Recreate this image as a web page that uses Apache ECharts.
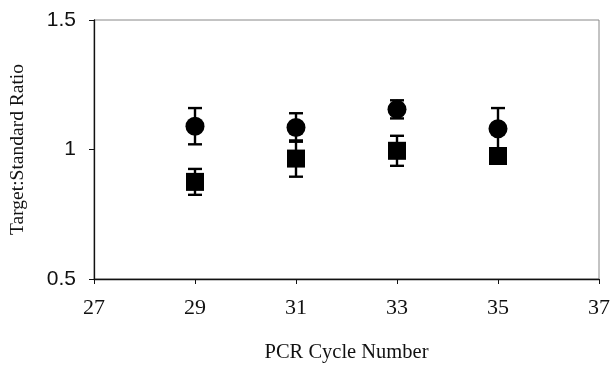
<!DOCTYPE html>
<html>
<head>
<meta charset="utf-8">
<script src="https://cdn.jsdelivr.net/npm/echarts@6/dist/echarts.min.js"></script>
<style>
  html, body { margin: 0; padding: 0; background: #fff; }
  #chart { width: 613px; height: 369px; }
</style>
</head>
<body>
<div id="chart"></div>
<script>
// PCR cycle numbers sampled
var cycles = [29, 31, 33, 35];
// Target:Standard ratio, circle series (mean and error)
var circleMean = [1.09, 1.085, 1.155, 1.08];
var circleErr = [0.07, 0.055, 0.035, 0.08];
// Target:Standard ratio, square series (mean and error)
var squareMean = [0.875, 0.965, 0.995, 0.975];
var squareErr = [0.05, 0.07, 0.058, 0.02];

function pts(mean) {
  return cycles.map(function (c, i) { return [c, mean[i]]; });
}
function bars(mean, err) {
  return cycles.map(function (c, i) { return [c, mean[i] - err[i], mean[i] + err[i]]; });
}

function renderErr(params, api) {
  var x = api.value(0);
  var lo = api.coord([x, api.value(1)]);
  var hi = api.coord([x, api.value(2)]);
  var half = 7;
  var st = { stroke: '#000', lineWidth: 2.4 };
  return {
    type: 'group',
    children: [
      { type: 'line', shape: { x1: lo[0], y1: lo[1], x2: hi[0], y2: hi[1] }, style: st },
      { type: 'line', shape: { x1: lo[0] - half, y1: lo[1], x2: lo[0] + half, y2: lo[1] }, style: st },
      { type: 'line', shape: { x1: hi[0] - half, y1: hi[1], x2: hi[0] + half, y2: hi[1] }, style: st }
    ]
  };
}

var chart = echarts.init(document.getElementById('chart'), null, { renderer: 'canvas' });
chart.setOption({
  animation: false,
  backgroundColor: '#fff',
  grid: {
    left: 93, right: 12, top: 20, bottom: 90,
    show: true, borderColor: '#888', borderWidth: 1
  },
  xAxis: {
    type: 'value', min: 27, max: 37, interval: 2,
    name: 'PCR Cycle Number', nameLocation: 'middle', nameGap: 63,
    nameTextStyle: { fontFamily: 'Liberation Serif', fontSize: 20.5, color: '#111' },
    axisLine: { show: true, lineStyle: { color: '#111', width: 1.3 } },
    axisTick: { show: true, inside: false, length: 5, lineStyle: { color: '#111' } },
    axisLabel: { fontFamily: 'Liberation Serif', fontSize: 22, color: '#111', margin: 18 },
    splitLine: { show: false }
  },
  yAxis: {
    type: 'value', min: 0.5, max: 1.5, interval: 0.5,
    name: 'Target:Standard Ratio', nameLocation: 'middle', nameGap: 66,
    nameTextStyle: { fontFamily: 'Liberation Serif', fontSize: 19.5, color: '#111' },
    axisLine: { show: true, lineStyle: { color: '#111', width: 1.3 } },
    axisTick: { show: true, inside: false, length: 5, lineStyle: { color: '#111' } },
    axisLabel: { fontFamily: 'Liberation Sans', fontSize: 21, color: '#111', margin: 18,
      formatter: function (v) { return v === 1 ? '1' : v.toFixed(1); } },
    splitLine: { show: false }
  },
  series: [
    { type: 'custom', renderItem: renderErr, data: bars(circleMean, circleErr), z: 2 },
    { type: 'custom', renderItem: renderErr, data: bars(squareMean, squareErr), z: 2 },
    { type: 'scatter', symbol: 'circle', symbolSize: 19, data: pts(circleMean),
      itemStyle: { color: '#000', opacity: 1 }, z: 3 },
    { type: 'scatter', symbol: 'rect', symbolSize: 18, data: pts(squareMean),
      itemStyle: { color: '#000', opacity: 1 }, z: 3 }
  ]
});
</script>
</body>
</html>
